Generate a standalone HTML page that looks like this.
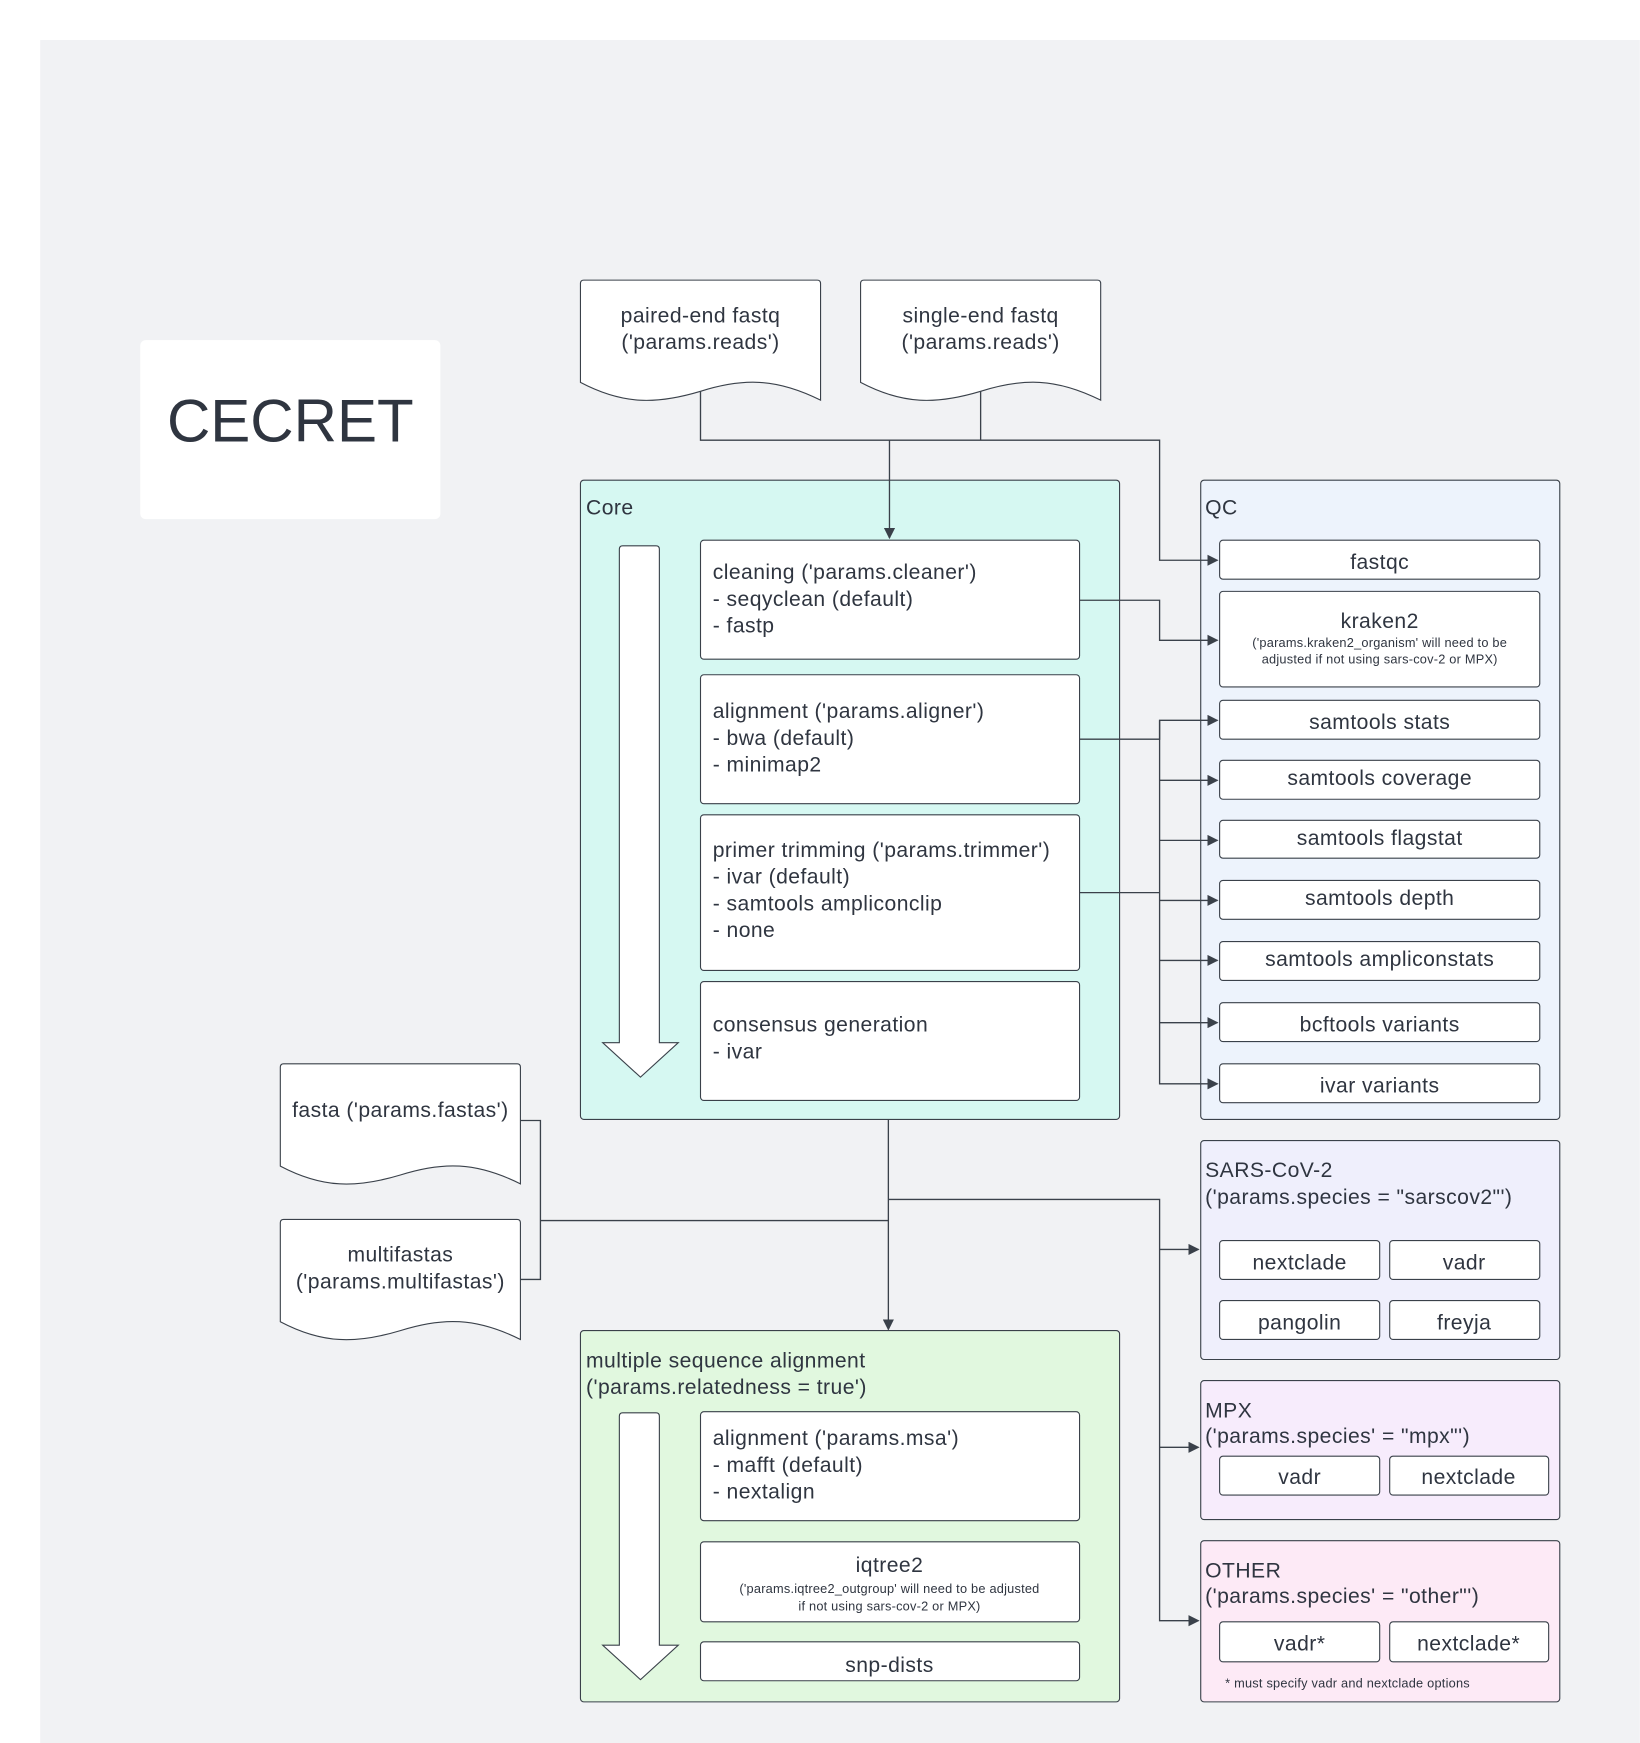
<!DOCTYPE html>
<html><head><meta charset="utf-8"><style>
html,body{margin:0;padding:0;background:#fff;}
svg{display:block;}
text{font-family:"Liberation Sans",sans-serif;fill:#2f3540;}
.b text{letter-spacing:0.4px;}
.s text{letter-spacing:0.2px;}
</style></head><body>
<svg width="1640" height="1743" viewBox="0 0 1475 1568" xmlns="http://www.w3.org/2000/svg">
<defs>
<marker id="ar" markerWidth="10" markerHeight="10" refX="9" refY="5" orient="auto" markerUnits="userSpaceOnUse">
<path d="M0,0 L10,5 L0,10 z" fill="#3a414a"/></marker>
</defs>
<rect x="36" y="36" width="1439" height="1532" fill="#f1f2f4"/>
<rect x="126" y="306" width="270" height="161" rx="5" fill="#fff"/>
<text x="261" y="397" font-size="54" text-anchor="middle">CECRET</text>

<g fill="#fff" stroke="#3a414a" stroke-width="1">
<path d="M522,255 q0,-3 3,-3 h210 q3,0 3,3 v105 c-40,-20 -70,-20 -108,-8 c-40,12 -70,12 -108,-8 z"/>
<path d="M774,255 q0,-3 3,-3 h210 q3,0 3,3 v105 c-40,-20 -70,-20 -108,-8 c-40,12 -70,12 -108,-8 z"/>
<path d="M252,960 q0,-3 3,-3 h210 q3,0 3,3 v105 c-40,-20 -70,-20 -108,-8 c-40,12 -70,12 -108,-8 z"/>
<path d="M252,1100 q0,-3 3,-3 h210 q3,0 3,3 v105 c-40,-20 -70,-20 -108,-8 c-40,12 -70,12 -108,-8 z"/>
</g>
<g class="b" font-size="19" text-anchor="middle">
<text x="630" y="290">paired-end fastq</text><text x="630" y="314">('params.reads')</text>
<text x="882" y="290">single-end fastq</text><text x="882" y="314">('params.reads')</text>
<text x="360" y="1005">fasta ('params.fastas')</text>
<text x="360" y="1135">multifastas</text><text x="360" y="1159">('params.multifastas')</text>
</g>

<g stroke="#3a414a" stroke-width="1">
<rect x="522" y="432" width="485" height="575" rx="3" fill="#d6f8f2"/>
<rect x="1080" y="432" width="323" height="575" rx="3" fill="#edf3fc"/>
<rect x="522" y="1197" width="485" height="334" rx="3" fill="#e1f8df"/>
<rect x="1080" y="1026" width="323" height="197" rx="3" fill="#efeffc"/>
<rect x="1080" y="1242" width="323" height="125" rx="3" fill="#f7ecfc"/>
<rect x="1080" y="1386" width="323" height="145" rx="3" fill="#fdeaf6"/>
</g>
<g class="b" font-size="19">
<text x="527" y="463">Core</text>
<text x="1084" y="463">QC</text>
<text x="527" y="1230">multiple sequence alignment</text><text x="527" y="1254">('params.relatedness = true')</text>
<text x="1084" y="1059">SARS-CoV-2</text><text x="1084" y="1083">('params.species = "sarscov2"')</text>
<text x="1084" y="1275">MPX</text><text x="1084" y="1298">('params.species' = "mpx"')</text>
<text x="1084" y="1419">OTHER</text><text x="1084" y="1442">('params.species' = "other"')</text>
</g>
<g class="s"><text x="1102" y="1518" font-size="11.5">* must specify vadr and nextclade options</text></g>

<g fill="#fff" stroke="#3a414a" stroke-width="1">
<path d="M557,494 q0,-3 3,-3 h30 q3,0 3,3 v444 h17 l-34,31 l-34,-31 h15 z"/>
<path d="M557,1274 q0,-3 3,-3 h30 q3,0 3,3 v206 h17 l-34,31 l-34,-31 h15 z"/>
</g>

<g fill="#fff" stroke="#3a414a" stroke-width="1">
<rect x="630" y="486" width="341" height="107" rx="3"/>
<rect x="630" y="607" width="341" height="116" rx="3"/>
<rect x="630" y="733" width="341" height="140" rx="3"/>
<rect x="630" y="883" width="341" height="107" rx="3"/>
<rect x="630" y="1270" width="341" height="98" rx="3"/>
<rect x="630" y="1387" width="341" height="72" rx="3"/>
<rect x="630" y="1477" width="341" height="35" rx="3"/>
<rect x="1097" y="486" width="288" height="35" rx="3"/>
<rect x="1097" y="532" width="288" height="86" rx="3"/>
<rect x="1097" y="630" width="288" height="35" rx="3"/>
<rect x="1097" y="684" width="288" height="35" rx="3"/>
<rect x="1097" y="738" width="288" height="34" rx="3"/>
<rect x="1097" y="792" width="288" height="35" rx="3"/>
<rect x="1097" y="847" width="288" height="35" rx="3"/>
<rect x="1097" y="902" width="288" height="35" rx="3"/>
<rect x="1097" y="957" width="288" height="35" rx="3"/>
<rect x="1097" y="1116" width="144" height="35" rx="3"/>
<rect x="1250" y="1116" width="135" height="35" rx="3"/>
<rect x="1097" y="1170" width="144" height="35" rx="3"/>
<rect x="1250" y="1170" width="135" height="35" rx="3"/>
<rect x="1097" y="1310" width="144" height="35" rx="3"/>
<rect x="1250" y="1310" width="143" height="35" rx="3"/>
<rect x="1097" y="1459" width="144" height="36" rx="3"/>
<rect x="1250" y="1459" width="143" height="36" rx="3"/>
</g>
<g class="b" font-size="19">
<text x="641" y="521">cleaning ('params.cleaner')</text><text x="641" y="545">- seqyclean (default)</text><text x="641" y="569">- fastp</text>
<text x="641" y="646">alignment ('params.aligner')</text><text x="641" y="670">- bwa (default)</text><text x="641" y="694">- minimap2</text>
<text x="641" y="771">primer trimming ('params.trimmer')</text><text x="641" y="795">- ivar (default)</text><text x="641" y="819">- samtools ampliconclip</text><text x="641" y="843">- none</text>
<text x="641" y="928">consensus generation</text><text x="641" y="952">- ivar</text>
<text x="641" y="1300">alignment ('params.msa')</text><text x="641" y="1324">- mafft (default)</text><text x="641" y="1348">- nextalign</text>
</g>
<g class="b" font-size="19" text-anchor="middle">
<text x="800" y="1414">iqtree2</text>
<text x="800" y="1504">snp-dists</text>
<text x="1241" y="512">fastqc</text>
<text x="1241" y="565">kraken2</text>
<text x="1241" y="656">samtools stats</text>
<text x="1241" y="706">samtools coverage</text>
<text x="1241" y="760">samtools flagstat</text>
<text x="1241" y="814">samtools depth</text>
<text x="1241" y="869">samtools ampliconstats</text>
<text x="1241" y="928">bcftools variants</text>
<text x="1241" y="983">ivar variants</text>
<text x="1169" y="1142">nextclade</text><text x="1317" y="1142">vadr</text>
<text x="1169" y="1196">pangolin</text><text x="1317" y="1196">freyja</text>
<text x="1169" y="1335">vadr</text><text x="1321" y="1335">nextclade</text>
<text x="1169" y="1485">vadr*</text><text x="1321" y="1485">nextclade*</text>
</g>
<g class="s" font-size="11.5" text-anchor="middle">
<text x="1241" y="582">('params.kraken2_organism' will need to be</text>
<text x="1241" y="597">adjusted if not using sars-cov-2 or MPX)</text>
<text x="800" y="1433">('params.iqtree2_outgroup' will need to be adjusted</text>
<text x="800" y="1449">if not using sars-cov-2 or MPX)</text>
</g>

<g fill="none" stroke="#3a414a" stroke-width="1.2">
<path d="M630,352 V396 H1043 V504 H1095" marker-end="url(#ar)"/>
<path d="M882,352 V396"/>
<path d="M800,396 V484" marker-end="url(#ar)"/>
<path d="M971,540 H1043 V576 H1095" marker-end="url(#ar)"/>
<path d="M971,665 H1043 V648 H1095" marker-end="url(#ar)"/>
<path d="M971,803 H1043"/>
<path d="M1043,648 V975 H1095" marker-end="url(#ar)"/>
<path d="M1043,702 H1095" marker-end="url(#ar)"/>
<path d="M1043,756 H1095" marker-end="url(#ar)"/>
<path d="M1043,810 H1095" marker-end="url(#ar)"/>
<path d="M1043,864 H1095" marker-end="url(#ar)"/>
<path d="M1043,920 H1095" marker-end="url(#ar)"/>
<path d="M799,1007 V1196" marker-end="url(#ar)"/>
<path d="M799,1079 H1043 V1458 H1078" marker-end="url(#ar)"/>
<path d="M1043,1124 H1078" marker-end="url(#ar)"/>
<path d="M1043,1302 H1078" marker-end="url(#ar)"/>
<path d="M468,1008 H486 V1151 H468"/>
<path d="M486,1098 H799"/>
</g>
</svg>
</body></html>
